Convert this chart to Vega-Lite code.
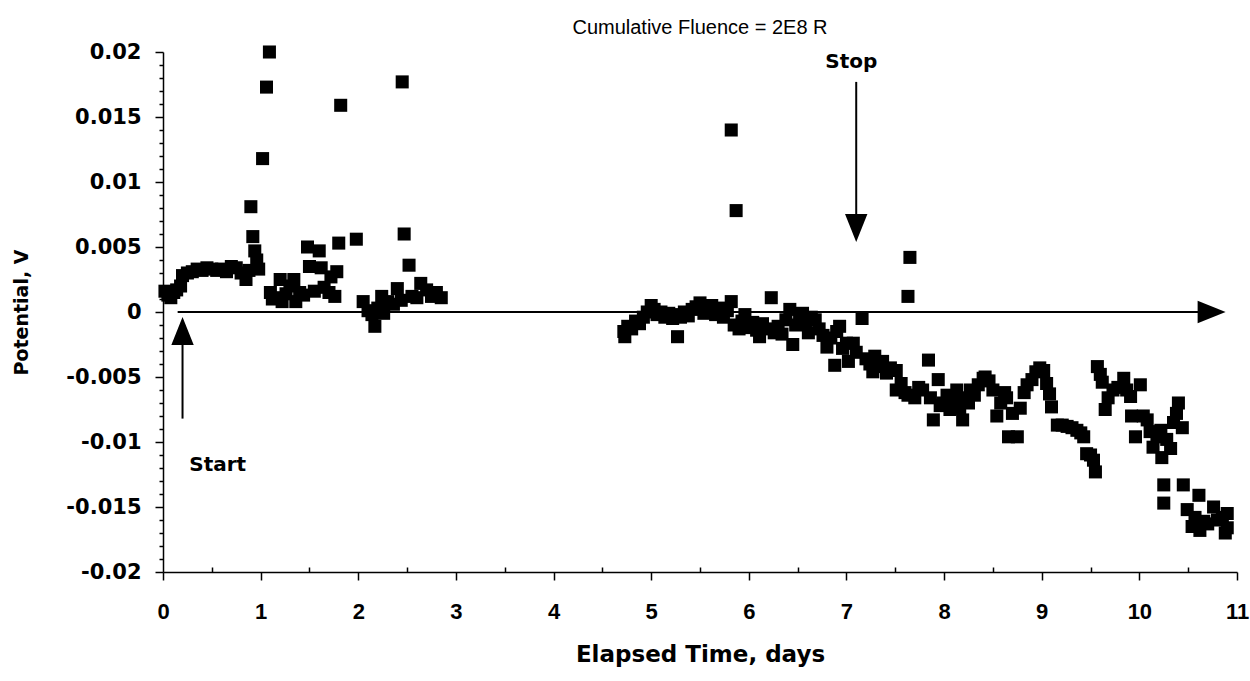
{
  "$schema": "https://vega.github.io/schema/vega-lite/v6.json",
  "width": 1074,
  "height": 520,
  "autosize": "none",
  "padding": {"left": 163, "top": 52, "right": 13, "bottom": 109},
  "background": "white",
  "config": {"view": {"stroke": null}},
  "title": {"text": "Cumulative Fluence = 2E8 R", "font": "Liberation Sans", "fontSize": 20, "fontWeight": "normal", "color": "black", "anchor": "middle", "offset": 3},
  "datasets": {
    "pts": [
      {"t":0.02,"v":0.0016},{"t":0.05,"v":0.0013},{"t":0.08,"v":0.0011},{"t":0.11,"v":0.0015},{"t":0.14,"v":0.0017},
      {"t":0.18,"v":0.0020},{"t":0.2,"v":0.0028},{"t":0.25,"v":0.0030},{"t":0.3,"v":0.0031},{"t":0.35,"v":0.0033},{"t":0.4,"v":0.0032},{"t":0.45,"v":0.0034},{"t":0.5,"v":0.0033},{"t":0.55,"v":0.0032},{"t":0.6,"v":0.0033},{"t":0.65,"v":0.0031},{"t":0.7,"v":0.0035},{"t":0.75,"v":0.0034},{"t":0.8,"v":0.0030},{"t":0.85,"v":0.0025},{"t":0.88,"v":0.0032},
      {"t":0.9,"v":0.0081},{"t":0.92,"v":0.0058},{"t":0.94,"v":0.0047},{"t":0.96,"v":0.0040},{"t":0.98,"v":0.0033},{"t":1.02,"v":0.0118},{"t":1.06,"v":0.0173},{"t":1.09,"v":0.0200},
      {"t":1.1,"v":0.0015},{"t":1.12,"v":0.0010},{"t":1.16,"v":0.0011},{"t":1.2,"v":0.0025},{"t":1.22,"v":0.0008},{"t":1.26,"v":0.0014},{"t":1.3,"v":0.0020},{"t":1.34,"v":0.0025},{"t":1.36,"v":0.0008},{"t":1.4,"v":0.0015},{"t":1.44,"v":0.0013},{"t":1.48,"v":0.0050},{"t":1.5,"v":0.0035},{"t":1.55,"v":0.0016},{"t":1.6,"v":0.0047},{"t":1.62,"v":0.0034},{"t":1.65,"v":0.0019},{"t":1.7,"v":0.0015},{"t":1.72,"v":0.0027},{"t":1.76,"v":0.0012},{"t":1.78,"v":0.0031},{"t":1.8,"v":0.0053},{"t":1.82,"v":0.0159},{"t":1.98,"v":0.0056},
      {"t":2.05,"v":0.0008},{"t":2.1,"v":0.0001},{"t":2.14,"v":-0.0002},{"t":2.17,"v":-0.0011},{"t":2.2,"v":0.0003},{"t":2.24,"v":0.0012},{"t":2.26,"v":-0.0001},{"t":2.3,"v":0.0008},{"t":2.36,"v":0.0006},{"t":2.4,"v":0.0018},{"t":2.44,"v":0.0009},{"t":2.45,"v":0.0177},{"t":2.47,"v":0.0060},{"t":2.52,"v":0.0036},{"t":2.55,"v":0.0012},{"t":2.6,"v":0.0011},{"t":2.64,"v":0.0022},{"t":2.7,"v":0.0017},{"t":2.75,"v":0.0012},{"t":2.8,"v":0.0015},{"t":2.85,"v":0.0011},
      {"t":4.72,"v":-0.0015},{"t":4.73,"v":-0.0019},{"t":4.76,"v":-0.0011},{"t":4.8,"v":-0.0013},{"t":4.84,"v":-0.0007},{"t":4.88,"v":-0.0009},{"t":4.92,"v":-0.0004},{"t":4.96,"v":0.0000},{"t":5.0,"v":0.0005},{"t":5.03,"v":0.0002},{"t":5.06,"v":-0.0002},{"t":5.1,"v":0.0000},{"t":5.14,"v":-0.0004},{"t":5.18,"v":-0.0001},{"t":5.22,"v":-0.0005},{"t":5.26,"v":-0.0002},{"t":5.27,"v":-0.0019},{"t":5.3,"v":-0.0004},{"t":5.34,"v":0.0000},{"t":5.38,"v":-0.0003},{"t":5.42,"v":0.0002},{"t":5.46,"v":0.0004},{"t":5.5,"v":0.0007},{"t":5.54,"v":-0.0001},{"t":5.58,"v":0.0003},{"t":5.62,"v":0.0005},{"t":5.66,"v":-0.0002},{"t":5.7,"v":0.0003},{"t":5.74,"v":-0.0004},{"t":5.78,"v":0.0001},{"t":5.82,"v":0.0008},{"t":5.82,"v":0.0140},{"t":5.87,"v":0.0078},{"t":5.85,"v":-0.0010},{"t":5.9,"v":-0.0013},{"t":5.93,"v":-0.0007},{"t":5.96,"v":-0.0002},{"t":6.0,"v":-0.0012},{"t":6.04,"v":-0.0008},{"t":6.08,"v":-0.0014},{"t":6.11,"v":-0.0019},{"t":6.14,"v":-0.0009},{"t":6.18,"v":-0.0013},{"t":6.23,"v":0.0011},{"t":6.26,"v":-0.0016},{"t":6.3,"v":-0.0011},{"t":6.34,"v":-0.0017},{"t":6.38,"v":-0.0006},{"t":6.42,"v":0.0002},{"t":6.45,"v":-0.0025},{"t":6.48,"v":-0.0010},{"t":6.52,"v":-0.0006},{"t":6.55,"v":-0.0001},{"t":6.58,"v":-0.0009},{"t":6.61,"v":-0.0016},{"t":6.64,"v":-0.0004},{"t":6.68,"v":-0.0006},{"t":6.72,"v":-0.0013},{"t":6.76,"v":-0.0018},{"t":6.8,"v":-0.0027},{"t":6.84,"v":-0.0020},{"t":6.88,"v":-0.0041},{"t":6.9,"v":-0.0015},{"t":6.93,"v":-0.0011},{"t":6.96,"v":-0.0028},{"t":7.0,"v":-0.0024},{"t":7.02,"v":-0.0038},{"t":7.07,"v":-0.0024},{"t":7.1,"v":-0.0031},{"t":7.16,"v":-0.0005},{"t":7.2,"v":-0.0036},{"t":7.24,"v":-0.0040},{"t":7.27,"v":-0.0046},{"t":7.29,"v":-0.0034},{"t":7.33,"v":-0.0042},{"t":7.37,"v":-0.0038},{"t":7.41,"v":-0.0047},{"t":7.45,"v":-0.0043},{"t":7.51,"v":-0.0045},{"t":7.51,"v":-0.0060},{"t":7.56,"v":-0.0055},{"t":7.6,"v":-0.0062},{"t":7.63,"v":-0.0064},{"t":7.63,"v":0.0012},{"t":7.65,"v":0.0042},{"t":7.7,"v":-0.0066},{"t":7.74,"v":-0.0058},{"t":7.78,"v":-0.0060},{"t":7.84,"v":-0.0037},{"t":7.86,"v":-0.0066},{"t":7.89,"v":-0.0083},{"t":7.94,"v":-0.0052},{"t":7.96,"v":-0.0072},{"t":7.99,"v":-0.0070},{"t":8.03,"v":-0.0064},{"t":8.06,"v":-0.0075},{"t":8.1,"v":-0.0068},{"t":8.13,"v":-0.0060},{"t":8.16,"v":-0.0074},{"t":8.19,"v":-0.0083},{"t":8.22,"v":-0.0066},{"t":8.25,"v":-0.0070},{"t":8.27,"v":-0.0060},{"t":8.31,"v":-0.0064},{"t":8.35,"v":-0.0056},{"t":8.4,"v":-0.0051},{"t":8.42,"v":-0.0050},{"t":8.46,"v":-0.0053},{"t":8.5,"v":-0.0060},{"t":8.54,"v":-0.0080},{"t":8.58,"v":-0.0070},{"t":8.62,"v":-0.0062},{"t":8.64,"v":-0.0066},{"t":8.66,"v":-0.0096},{"t":8.7,"v":-0.0078},{"t":8.75,"v":-0.0096},{"t":8.78,"v":-0.0074},{"t":8.82,"v":-0.0062},{"t":8.85,"v":-0.0056},{"t":8.9,"v":-0.0052},{"t":8.94,"v":-0.0046},{"t":8.98,"v":-0.0043},{"t":9.02,"v":-0.0045},{"t":9.05,"v":-0.0055},{"t":9.08,"v":-0.0063},{"t":9.1,"v":-0.0073},{"t":9.16,"v":-0.0087},{"t":9.21,"v":-0.0087},{"t":9.26,"v":-0.0088},{"t":9.31,"v":-0.0089},{"t":9.36,"v":-0.0091},{"t":9.4,"v":-0.0093},{"t":9.43,"v":-0.0096},{"t":9.46,"v":-0.0109},{"t":9.5,"v":-0.0110},{"t":9.53,"v":-0.0114},{"t":9.55,"v":-0.0123},{"t":9.57,"v":-0.0042},{"t":9.6,"v":-0.0048},{"t":9.62,"v":-0.0054},{"t":9.65,"v":-0.0075},{"t":9.68,"v":-0.0066},{"t":9.73,"v":-0.0060},{"t":9.78,"v":-0.0058},{"t":9.84,"v":-0.0051},{"t":9.87,"v":-0.0060},{"t":9.91,"v":-0.0065},{"t":9.92,"v":-0.0080},{"t":9.96,"v":-0.0096},{"t":10.01,"v":-0.0056},{"t":10.04,"v":-0.0080},{"t":10.08,"v":-0.0083},{"t":10.11,"v":-0.0092},{"t":10.14,"v":-0.0104},{"t":10.18,"v":-0.0096},{"t":10.22,"v":-0.0091},{"t":10.23,"v":-0.0112},{"t":10.28,"v":-0.0098},{"t":10.32,"v":-0.0105},{"t":10.35,"v":-0.0085},{"t":10.38,"v":-0.0078},{"t":10.4,"v":-0.0070},{"t":10.44,"v":-0.0089},{"t":10.25,"v":-0.0133},{"t":10.25,"v":-0.0147},{"t":10.45,"v":-0.0133},{"t":10.49,"v":-0.0152},{"t":10.54,"v":-0.0165},{"t":10.57,"v":-0.0158},{"t":10.61,"v":-0.0141},{"t":10.62,"v":-0.0168},{"t":10.66,"v":-0.0161},{"t":10.7,"v":-0.0163},{"t":10.76,"v":-0.0150},{"t":10.8,"v":-0.0160},{"t":10.85,"v":-0.0158},{"t":10.9,"v":-0.0155},{"t":10.9,"v":-0.0166},{"t":10.88,"v":-0.0170}
    ],
    "lines": [
      {"name":"start","t":0.2,"t2":0.2,"v":-0.0082,"v2":-0.0024},
      {"name":"stop","t":7.1,"t2":7.1,"v":0.0177,"v2":0.0075},
      {"name":"zero","t":0.15,"t2":10.62,"v":0,"v2":0}
    ],
    "heads": [
      {"name":"start","t":0.2,"v":-0.00146},
      {"name":"stop","t":7.1,"v":0.00646},
      {"name":"zero","t":10.74,"v":0}
    ],
    "labels": [
      {"name":"Start","t":0.56,"v":-0.0118},
      {"name":"Stop","t":7.05,"v":0.0192}
    ]
  },
  "layer": [
    {
      "data": {"name": "pts"},
      "mark": {"type": "square", "size": 170, "color": "black", "opacity": 1},
      "encoding": {
        "x": {"field": "t", "type": "quantitative",
          "scale": {"domain": [0, 11], "nice": false, "zero": false},
          "axis": {
            "title": "Elapsed Time, days",
            "values": [0,0.5,1,1.5,2,2.5,3,3.5,4,4.5,5,5.5,6,6.5,7,7.5,8,8.5,9,9.5,10,10.5,11],
            "tickCount": 100,
            "labelExpr": "datum.value % 1 == 0 ? '' + datum.value : ''",
            "labelOverlap": false,
            "grid": false,
            "domainColor": "black", "domainWidth": 1.5,
            "tickColor": "black", "tickWidth": 1.5,
            "tickSize": {"condition": {"test": "datum.value % 1 == 0", "value": 8}, "value": -5},
            "labelFont": "Liberation Sans",
            "labelFontSize": 22, "labelFontWeight": "bold", "labelColor": "black",
            "labelPadding": 21, "labelFlush": false,
            "titleFont": "DejaVu Sans",
            "titleFontSize": 23, "titleFontWeight": "bold", "titleColor": "black",
            "titlePadding": 21
          }
        },
        "y": {"field": "v", "type": "quantitative",
          "scale": {"domain": [-0.02, 0.02], "nice": false, "zero": false},
          "axis": {
            "title": "Potential, V",
            "values": [-0.02,-0.019,-0.018,-0.017,-0.016,-0.015,-0.014,-0.013,-0.012,-0.011,-0.01,-0.009,-0.008,-0.007,-0.006,-0.005,-0.004,-0.003,-0.002,-0.001,0,0.001,0.002,0.003,0.004,0.005,0.006,0.007,0.008,0.009,0.01,0.011,0.012,0.013,0.014,0.015,0.016,0.017,0.018,0.019,0.02],
            "tickCount": 100,
            "labelExpr": "abs(round(datum.value*1000)) % 5 == 0 ? '' + datum.value : ''",
            "labelOverlap": false,
            "grid": false,
            "domainColor": "black", "domainWidth": 1.5,
            "tickColor": "black", "tickWidth": 1.5,
            "tickSize": {"condition": {"test": "abs(round(datum.value*1000)) % 5 == 0", "value": 8}, "value": 4},
            "labelFont": "DejaVu Sans", "labelFontSize": 21, "labelFontWeight": "bold", "labelColor": "black",
            "labelPadding": 14,
            "titleFont": "DejaVu Sans", "titleFontSize": 19, "titleFontWeight": "bold", "titleColor": "black",
            "titlePadding": 34
          }
        }
      }
    },
    {
      "data": {"name": "lines"},
      "mark": {"type": "rule", "color": "black", "strokeWidth": 2},
      "encoding": {
        "x": {"field": "t", "type": "quantitative"},
        "x2": {"field": "t2"},
        "y": {"field": "v", "type": "quantitative"},
        "y2": {"field": "v2"}
      }
    },
    {
      "data": {"name": "heads"},
      "transform": [{"filter": "datum.name == 'start'"}],
      "mark": {"type": "point", "shape": "M0,-1L0.8,1L-0.8,1Z", "size": 784, "filled": true, "color": "black", "opacity": 1},
      "encoding": {
        "x": {"field": "t", "type": "quantitative"},
        "y": {"field": "v", "type": "quantitative"}
      }
    },
    {
      "data": {"name": "heads"},
      "transform": [{"filter": "datum.name == 'stop'"}],
      "mark": {"type": "point", "shape": "M0,1L0.8,-1L-0.8,-1Z", "size": 784, "filled": true, "color": "black", "opacity": 1},
      "encoding": {
        "x": {"field": "t", "type": "quantitative"},
        "y": {"field": "v", "type": "quantitative"}
      }
    },
    {
      "data": {"name": "heads"},
      "transform": [{"filter": "datum.name == 'zero'"}],
      "mark": {"type": "point", "shape": "M1,0L-1,-0.8L-1,0.8Z", "size": 784, "filled": true, "color": "black", "opacity": 1},
      "encoding": {
        "x": {"field": "t", "type": "quantitative"},
        "y": {"field": "v", "type": "quantitative"}
      }
    },
    {
      "data": {"name": "labels"},
      "mark": {"type": "text", "font": "DejaVu Sans", "fontSize": 20, "fontWeight": "bold", "color": "black", "align": "center", "baseline": "middle"},
      "encoding": {
        "x": {"field": "t", "type": "quantitative"},
        "y": {"field": "v", "type": "quantitative"},
        "text": {"field": "name"}
      }
    }
  ]
}
